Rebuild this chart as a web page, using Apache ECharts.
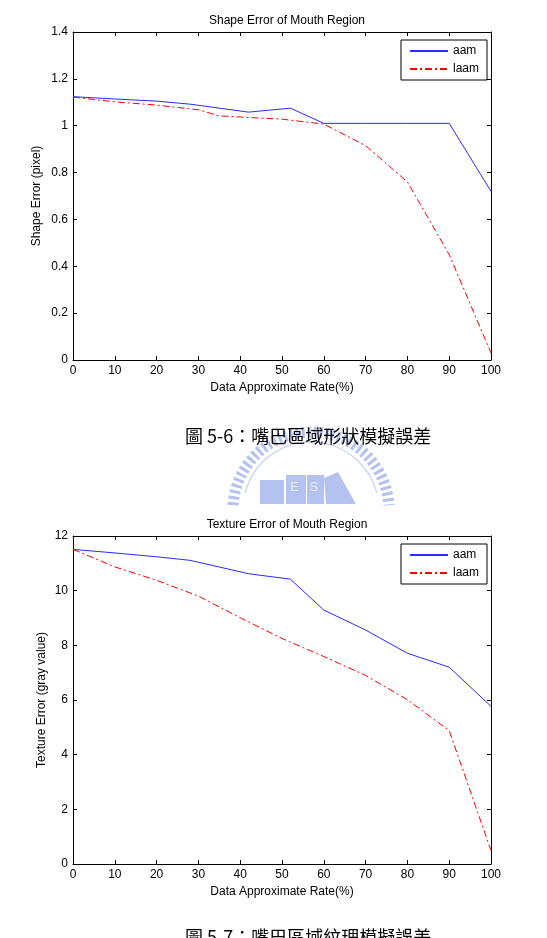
<!DOCTYPE html>
<html>
<head>
<meta charset="utf-8">
<script src="https://cdn.jsdelivr.net/npm/echarts@6/dist/echarts.min.js"></script>
<style>
  html, body { margin: 0; padding: 0; background: #fff; }
  #main { width: 547px; height: 938px; }
</style>
</head>
<body>
<div id="main"></div>
<script>
// 上圖：形狀誤差
var shapeRateAam = [0, 10, 20, 28, 42, 52, 60, 70, 80, 90, 100];
var shapeAam = [1.124, 1.114, 1.105, 1.092, 1.058, 1.075, 1.010, 1.010, 1.010, 1.010, 0.720];
var shapeRateLaam = [0, 10, 20, 30, 35, 40, 50, 60, 70, 80, 90, 100];
var shapeLaam = [1.122, 1.102, 1.088, 1.068, 1.042, 1.037, 1.028, 1.007, 0.915, 0.760, 0.450, 0.030];

// 下圖：紋理誤差
var texRateAam = [0, 10, 20, 28, 42, 52, 60, 70, 80, 90, 100];
var texAam = [11.51, 11.38, 11.24, 11.11, 10.62, 10.42, 9.29, 8.56, 7.71, 7.20, 5.77];
var texRateLaam = [0, 10, 20, 30, 40, 50, 60, 70, 80, 90, 100];
var texLaam = [11.51, 10.87, 10.38, 9.80, 9.01, 8.25, 7.59, 6.90, 6.01, 4.88, 0.49];

var seriesNames = ['aam', 'laam'];
var titles = ['Shape Error of Mouth Region', 'Texture Error of Mouth Region'];
var yNames = ['Shape Error (pixel)', 'Texture Error (gray value)'];
var xName = 'Data Approximate Rate(%)';
var captions = ['圖 5-6：嘴巴區域形狀模擬誤差', '圖 5-7：嘴巴區域紋理模擬誤差'];

function zip(xs, ys) {
  return xs.map(function (x, i) { return [x, ys[i]]; });
}

var font = 'Liberation Sans, Arial, sans-serif';
var black = '#000';
var tick = { show: true, inside: true, length: 4, lineStyle: { color: black } };
var line = { show: true, onZero: false, lineStyle: { color: black, width: 1 } };

function xAxes(g) {
  var base = {
    gridIndex: g, type: 'value', min: 0, max: 100, interval: 10,
    axisLine: line, axisTick: tick, splitLine: { show: false }
  };
  return [
    Object.assign({}, base, {
      position: 'bottom',
      axisLabel: { color: black, fontSize: 12, fontFamily: font, margin: 5 },
      name: xName, nameLocation: 'middle', nameGap: 22, nameMoveOverlap: false,
      nameTextStyle: { color: black, fontSize: 12, fontFamily: font }
    }),
    Object.assign({}, base, { position: 'top', axisLabel: { show: false } })
  ];
}

function yAxes(g, max, interval, gap) {
  var base = {
    gridIndex: g, type: 'value', min: 0, max: max, interval: interval,
    axisLine: line, axisTick: tick, splitLine: { show: false }
  };
  return [
    Object.assign({}, base, {
      position: 'left',
      axisLabel: { color: black, fontSize: 12, fontFamily: font, margin: 5 },
      name: yNames[g], nameLocation: 'middle', nameGap: gap, nameMoveOverlap: false,
      nameTextStyle: { color: black, fontSize: 12, fontFamily: font }
    }),
    Object.assign({}, base, { position: 'right', axisLabel: { show: false } })
  ];
}

function lineSeries(name, xi, yi, data) {
  var red = name === 'laam';
  return {
    name: name, type: 'line', xAxisIndex: xi, yAxisIndex: yi,
    data: data, symbol: 'none', animation: false,
    lineStyle: {
      color: red ? '#ff0000' : '#2a2aff', width: 1,
      type: red ? [7, 3, 2, 3] : 'solid'
    }
  };
}

var legendBase = {
  orient: 'vertical', right: 60, data: seriesNames,
  backgroundColor: '#fff', borderColor: black, borderWidth: 1,
  padding: [5, 8, 5, 8], itemWidth: 38, itemHeight: 12, itemGap: 6,
  itemStyle: { opacity: 0 },
  textStyle: { color: black, fontSize: 12, fontFamily: font }
};

var chart = echarts.init(document.getElementById('main'));
chart.setOption({
  backgroundColor: '#fff',
  title: [
    { text: titles[0], left: 282, top: 10, textAlign: 'center',
      textStyle: { fontSize: 12, fontWeight: 'normal', color: black, fontFamily: font } },
    { text: titles[1], left: 282, top: 514, textAlign: 'center',
      textStyle: { fontSize: 12, fontWeight: 'normal', color: black, fontFamily: font } }
  ],
  legend: [
    Object.assign({}, legendBase, { top: 40 }),
    Object.assign({}, legendBase, { top: 544 })
  ],
  grid: [
    { left: 73, right: 56, top: 32, height: 328 },
    { left: 73, right: 56, top: 536, height: 328 }
  ],
  xAxis: xAxes(0).concat(xAxes(1)),
  yAxis: yAxes(0, 1.4, 0.2, 30).concat(yAxes(1, 12, 2, 25)),
  series: [
    lineSeries('aam', 0, 0, zip(shapeRateAam, shapeAam)),
    lineSeries('laam', 0, 0, zip(shapeRateLaam, shapeLaam)),
    lineSeries('aam', 2, 2, zip(texRateAam, texAam)),
    lineSeries('laam', 2, 2, zip(texRateLaam, texLaam))
  ],
  graphic: [
    // 浮水印（淡藍色校徽）
    { type: 'arc', silent: true, z: -1,
      shape: { cx: 311, cy: 510, r: 78, startAngle: Math.PI * 1.02, endAngle: Math.PI * 1.98 },
      style: { fill: null, stroke: '#b4c2ef', lineWidth: 11, lineDash: [3, 3] } },
    { type: 'arc', silent: true, z: -1,
      shape: { cx: 311, cy: 510, r: 68, startAngle: Math.PI * 1.08, endAngle: Math.PI * 1.92 },
      style: { fill: null, stroke: '#cdd7f5', lineWidth: 1.5 } },
    { type: 'rect', silent: true, z: -1, shape: { x: 260, y: 480, width: 24, height: 24 },
      style: { fill: '#b4c2ef' } },
    { type: 'rect', silent: true, z: -1, shape: { x: 286, y: 475, width: 20, height: 29 },
      style: { fill: '#b4c2ef' } },
    { type: 'rect', silent: true, z: -1, shape: { x: 307, y: 475, width: 17, height: 29 },
      style: { fill: '#b4c2ef' } },
    { type: 'polygon', silent: true, z: -1,
      shape: { points: [[324, 478], [338, 472], [356, 504], [326, 504]] },
      style: { fill: '#b4c2ef' } },
    { type: 'text', silent: true, z: -1, left: 290, top: 481,
      style: { text: 'E   S', fill: '#e8edfb', font: '13px Liberation Sans' } },
    // 圖說
    { type: 'text', left: 185, top: 427,
      style: { text: captions[0], fill: black, font: '18px "Noto Sans CJK TC"' } },
    { type: 'text', left: 185, top: 928,
      style: { text: captions[1], fill: black, font: '18px "Noto Sans CJK TC"' } }
  ]
});
</script>
</body>
</html>
